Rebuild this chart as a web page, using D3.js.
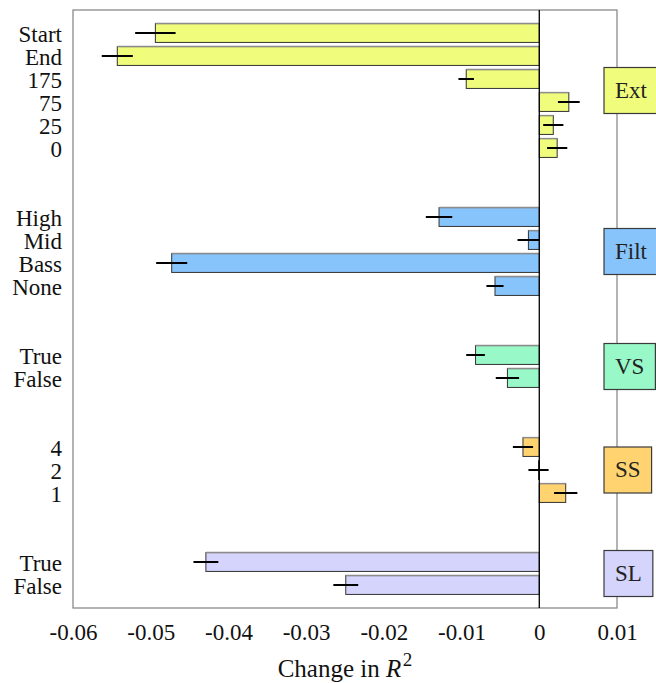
<!DOCTYPE html>
<html>
<head>
<meta charset="utf-8">
<script src="https://cdn.jsdelivr.net/npm/d3@7"></script>
<style>
  html, body { margin: 0; padding: 0; background: #fff; }
  svg { display: block; }
  svg text { font-family: "Liberation Serif", "Times New Roman", serif !important; }
</style>
</head>
<body>
<svg id="chart" width="656" height="683"></svg>
<script>
// Factor groups, top to bottom
const groupNames  = ["Ext", "Filt", "VS", "SS", "SL"];
const groupColors = ["#f0fc7c", "#88c4fc", "#98f8c8", "#ffd470", "#d4d4fc"];

// Levels within each group (top to bottom), their change in R^2 and error half-widths
const categories = ["Start", "End", "175", "75", "25", "0",
                    "High", "Mid", "Bass", "None",
                    "True", "False",
                    "4", "2", "1",
                    "True", "False"];
const groupOf    = [0, 0, 0, 0, 0, 0,
                    1, 1, 1, 1,
                    2, 2,
                    3, 3, 3,
                    4, 4];
const values     = [-0.0494, -0.0543, -0.0094, 0.0038, 0.0018, 0.0023,
                    -0.0129, -0.0014, -0.0473, -0.0057,
                    -0.0082, -0.0041,
                    -0.0021, -0.0001, 0.0034,
                    -0.0429, -0.0249];
const errors     = [0.0026, 0.0020, 0.0010, 0.0014, 0.0013, 0.0013,
                    0.0017, 0.0014, 0.0020, 0.0011,
                    0.0012, 0.0015,
                    0.0013, 0.0013, 0.0015,
                    0.0016, 0.0016];
const xTicks     = [-0.06, -0.05, -0.04, -0.03, -0.02, -0.01, 0, 0.01];

(function () {
  const serif = "'Liberation Serif', 'Times New Roman', serif";

  // Row slots: groups separated by two empty slots
  const gapRows = 2;
  const rows = [];
  let slot = 0;
  categories.forEach((c, i) => {
    if (i > 0 && groupOf[i] !== groupOf[i - 1]) slot += gapRows;
    rows.push({ label: c, g: groupOf[i], v: values[i], e: errors[i], slot: slot });
    slot += 1;
  });
  const nSlots = slot;

  const svg = d3.select("#chart");
  const pLeft = 73, pRight = 617, pTop = 10, pBottom = 608;

  const x = d3.scaleLinear().domain([-0.06, 0.01]).range([pLeft, pRight]);
  const y = d3.scaleLinear().domain([-1, nSlots]).range([pTop, pBottom]);
  const step = y(1) - y(0);
  const barH = step * 0.82;

  // Frame
  svg.append("rect")
    .attr("x", pLeft).attr("y", pTop)
    .attr("width", pRight - pLeft).attr("height", pBottom - pTop)
    .attr("fill", "none").attr("stroke", "#8a8a8a").attr("stroke-width", 1.3);

  // Bars
  const bars = svg.append("g");
  rows.forEach(r => {
    const x0 = x(Math.min(r.v, 0)), x1 = x(Math.max(r.v, 0));
    const yc = y(r.slot);
    bars.append("rect")
      .attr("x", x0).attr("y", yc - barH / 2)
      .attr("width", Math.max(x1 - x0, 0.8)).attr("height", barH)
      .attr("fill", groupColors[r.g])
      .attr("stroke", "#333").attr("stroke-width", 1);
    bars.append("line")
      .attr("x1", x0).attr("x2", x1)
      .attr("y1", yc - barH / 2).attr("y2", yc - barH / 2)
      .attr("stroke", "#8c8c8c").attr("stroke-width", 1.4);
  });

  // Zero line
  svg.append("line")
    .attr("x1", x(0)).attr("x2", x(0))
    .attr("y1", pTop).attr("y2", pBottom)
    .attr("stroke", "#000").attr("stroke-width", 1.3);

  // Error bars
  svg.append("g").selectAll("line").data(rows).join("line")
    .attr("x1", d => x(d.v - d.e)).attr("x2", d => x(d.v + d.e))
    .attr("y1", d => y(d.slot)).attr("y2", d => y(d.slot))
    .attr("stroke", "#000").attr("stroke-width", 2);

  // Group label boxes on the right edge
  groupNames.forEach((name, gi) => {
    const slots = rows.filter(r => r.g === gi).map(r => r.slot);
    const yc = (y(d3.min(slots)) + y(d3.max(slots))) / 2;
    const gEl = svg.append("g");
    const box = gEl.append("rect")
      .attr("x", 604).attr("y", yc - 23).attr("height", 46)
      .attr("fill", groupColors[gi]).attr("stroke", "#3a3a3a").attr("stroke-width", 1.2);
    const t = gEl.append("text")
      .attr("y", yc).attr("dy", "0.32em")
      .attr("text-anchor", "middle")
      .style("font-family", serif).style("font-size", "23px")
      .attr("fill", "#222")
      .text(name);
    const w = t.node().getComputedTextLength() + 22;
    box.attr("width", w);
    t.attr("x", 604 + w / 2);
  });

  // Y axis: level labels
  const yAxis = d3.axisLeft(y)
    .tickValues(rows.map(r => r.slot))
    .tickFormat((d, i) => rows[i].label)
    .tickSize(0).tickPadding(11);
  const ya = svg.append("g").attr("transform", `translate(${pLeft},0)`).call(yAxis);
  ya.select(".domain").remove();
  ya.selectAll("text")
    .style("font-family", serif).style("font-size", "23px")
    .attr("fill", "#111").attr("dy", "0.39em");

  // X axis
  const xAxis = d3.axisBottom(x)
    .tickValues(xTicks)
    .tickFormat(d => d === 0 ? "0" : String(+d.toFixed(2)))
    .tickSize(0);
  const xa = svg.append("g").attr("transform", `translate(0,${pBottom})`).call(xAxis);
  xa.select(".domain").remove();
  xa.selectAll("text")
    .style("font-family", serif).style("font-size", "23px")
    .attr("fill", "#111")
    .attr("y", 32).attr("dy", 0);

  // X axis title
  const title = svg.append("text")
    .attr("x", (pLeft + pRight) / 2).attr("y", 677)
    .attr("text-anchor", "middle")
    .style("font-family", serif).style("font-size", "25px")
    .attr("fill", "#111");
  title.append("tspan").text("Change in ");
  title.append("tspan").style("font-style", "italic").text("R");
  title.append("tspan").style("font-size", "19px").attr("dy", -11).attr("dx", 1.5).text("2");
})();
</script>
</body>
</html>
